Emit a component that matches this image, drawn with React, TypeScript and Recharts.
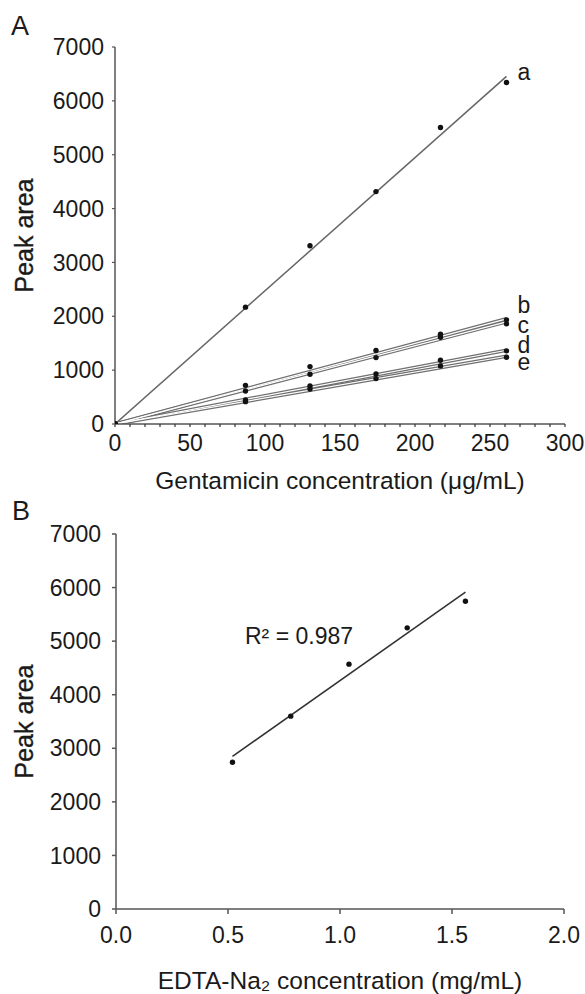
import React from 'react';
import { ComposedChart, Line, Scatter, XAxis, YAxis, Label } from 'recharts';

// ---------- Panel A data ----------
const gentamicinConc = [0, 87, 130, 174, 217, 261];
const areaA = [0, 2170, 3310, 4315, 5505, 6342];
const areaB = [0, 718, 1066, 1364, 1668, 1934];
const areaC = [0, 614, 924, 1233, 1612, 1860];
const areaD = [0, 446, 707, 930, 1184, 1358];
const areaE = [0, 415, 651, 843, 1079, 1240];
const fitConcA = [0, 261];
const fitA = [0, 6454];
const fitB = [0, 1953];
const fitC = [0, 1897];
const fitD = [0, 1370];
const fitE = [0, 1258];
const seriesNames = ['a', 'b', 'c', 'd', 'e'];
const gentamicinTicks = [0, 10, 20, 30, 40, 50, 60, 70, 80, 90, 100, 110, 120, 130, 140, 150, 160, 170, 180, 190, 200, 210, 220, 230, 240, 250, 260, 270, 280, 290, 300];
const areaTicks = [0, 1000, 2000, 3000, 4000, 5000, 6000, 7000];

// ---------- Panel B data ----------
const edtaConc = [0.52, 0.78, 1.04, 1.3, 1.56];
const edtaArea = [2740, 3600, 4571, 5248, 5746];
const edtaFitConc = [0.52, 1.56];
const edtaFitArea = [2850, 5915];
const edtaTicks = [0, 0.5, 1, 1.5, 2];
const r2Text = 'R² = 0.987';

const toRows = (xs: number[], ys: number[]) => xs.map((x, i) => ({ x, y: ys[i] }));

const FONT = '"Liberation Sans", Arial, Helvetica, sans-serif';
const TEXT = '#1a1a1a';
const AXIS = '#555';

// label vertical baseline offsets (style only)
const labelBaseline: Record<string, number> = { a: 4, b: -5.5, c: 11, d: 2.5, e: 14 };

const dot = (p: any) => <circle cx={p.cx} cy={p.cy} r={2.7} fill="#111" />;

const endLabel = (name: string) => (p: any) => {
  if (p.index !== 1) return <g />;
  return (
    <text x={p.x + 11} y={p.y + labelBaseline[name]} fontSize={23} fontFamily={FONT} fill={TEXT}>
      {name}
    </text>
  );
};

const yTitle = (p: any) => {
  const vb = p.viewBox || {};
  const cx = 24;
  const cy = (vb.y || 0) + (vb.height || 0) / 2;
  return (
    <text
      x={cx}
      y={cy}
      dy="0.36em"
      transform={`rotate(-90 ${cx} ${cy})`}
      textAnchor="middle"
      fontSize={25}
      fontWeight={500}
      fontFamily={FONT}
      fill={TEXT}
      stroke={TEXT}
      strokeWidth={0.35}
    >
      Peak area
    </text>
  );
};

const xTitle = (text: string, baselineFromAxis: number) => (p: any) => {
  const vb = p.viewBox || {};
  const cx = (vb.x || 0) + (vb.width || 0) / 2;
  const y = (vb.y || 0) + baselineFromAxis;
  return (
    <text x={cx} y={y} textAnchor="middle" fontSize={24.5} fontFamily={FONT} fill={TEXT}>
      {text}
    </text>
  );
};

const tickStyle = { fontSize: 23, fill: TEXT, fontFamily: FONT };

export default function App() {
  const pointsA = [areaA, areaB, areaC, areaD, areaE].map((ys) => toRows(gentamicinConc, ys));
  const fitsA = [fitA, fitB, fitC, fitD, fitE].map((ys) => toRows(fitConcA, ys));
  const pointsB = toRows(edtaConc, edtaArea);
  const fitRowsB = toRows(edtaFitConc, edtaFitArea);

  return (
    <div style={{ position: 'absolute', left: 0, top: 0, width: 585, height: 994, background: '#fff', fontFamily: FONT }}>
      <div style={{ position: 'absolute', left: 11, top: 13, fontSize: 27, lineHeight: 1, color: TEXT }}>A</div>
      <div style={{ position: 'absolute', left: 12, top: 498, fontSize: 27, lineHeight: 1, color: TEXT }}>B</div>

      <div style={{ position: 'absolute', left: 0, top: 0 }}>
        <ComposedChart width={585} height={500} margin={{ top: 47, right: 20, bottom: 12, left: 0 }}>
          <XAxis
            type="number"
            dataKey="x"
            domain={[0, 300]}
            ticks={gentamicinTicks}
            interval={0}
            tickFormatter={(v: number) => (v % 50 === 0 ? String(v) : '')}
            tickSize={3}
            tickMargin={8}
            tick={tickStyle}
            stroke={AXIS}
            axisLine={{ stroke: AXIS, strokeWidth: 1.5 }}
            tickLine={{ stroke: '#333', strokeWidth: 1.2 }}
            height={64}
            allowDataOverflow
          >
            <Label content={xTitle('Gentamicin concentration (μg/mL)', 64.5)} />
          </XAxis>
          <YAxis
            type="number"
            dataKey="y"
            domain={[0, 7000]}
            ticks={areaTicks}
            interval={0}
            tickSize={3}
            tickMargin={8}
            tick={tickStyle}
            width={115}
            axisLine={{ stroke: AXIS, strokeWidth: 1.5 }}
            tickLine={{ stroke: AXIS, strokeWidth: 1.2 }}
            allowDataOverflow
          >
            <Label content={yTitle} />
          </YAxis>

          {fitsA.map((rows, i) =>
            i === 0 ? (
              <Line
                key={'fit' + i}
                data={rows}
                dataKey="y"
                type="linear"
                stroke="#666"
                strokeWidth={1.5}
                dot={false}
                activeDot={false}
                isAnimationActive={false}
                label={endLabel(seriesNames[i])}
              />
            ) : (
              <Line
                key={'fitouter' + i}
                data={rows}
                dataKey="y"
                type="linear"
                stroke="#6f6f6f"
                strokeWidth={3.6}
                dot={false}
                activeDot={false}
                isAnimationActive={false}
                label={endLabel(seriesNames[i])}
              />
            )
          )}
          {fitsA.map((rows, i) =>
            i === 0 ? null : (
              <Line
                key={'fitinner' + i}
                data={rows}
                dataKey="y"
                type="linear"
                stroke="#ffffff"
                strokeWidth={1.2}
                dot={false}
                activeDot={false}
                isAnimationActive={false}
              />
            )
          )}
          {pointsA.map((rows, i) => (
            <Scatter key={'pts' + i} data={rows} shape={dot} isAnimationActive={false} />
          ))}
        </ComposedChart>
      </div>

      <div style={{ position: 'absolute', left: 0, top: 500 }}>
        <ComposedChart width={585} height={494} margin={{ top: 34, right: 21, bottom: 3, left: 0 }}>
          <XAxis
            type="number"
            dataKey="x"
            domain={[0, 2]}
            ticks={edtaTicks}
            interval={0}
            tickFormatter={(v: number) => v.toFixed(1)}
            tickSize={5}
            tickMargin={13}
            tick={tickStyle}
            axisLine={{ stroke: AXIS, strokeWidth: 1.5 }}
            tickLine={{ stroke: AXIS, strokeWidth: 1.5 }}
            height={82}
            allowDataOverflow
          >
            <Label content={xTitle('EDTA-Na₂ concentration (mg/mL)', 79.5)} />
          </XAxis>
          <YAxis
            type="number"
            dataKey="y"
            domain={[0, 7000]}
            ticks={areaTicks}
            interval={0}
            tickSize={4}
            tickMargin={11}
            tick={tickStyle}
            width={116}
            axisLine={{ stroke: AXIS, strokeWidth: 1.5 }}
            tickLine={{ stroke: AXIS, strokeWidth: 1.5 }}
            allowDataOverflow
          >
            <Label content={yTitle} />
          </YAxis>
          <Line
            data={fitRowsB}
            dataKey="y"
            type="linear"
            stroke="#333"
            strokeWidth={1.6}
            dot={false}
            activeDot={false}
            isAnimationActive={false}
          />
          <Scatter data={pointsB} shape={dot} isAnimationActive={false} />
        </ComposedChart>
      </div>

      <div style={{ position: 'absolute', left: 245, top: 625, fontSize: 23, lineHeight: 1, color: TEXT, whiteSpace: 'nowrap' }}>
        {r2Text}
      </div>
    </div>
  );
}
